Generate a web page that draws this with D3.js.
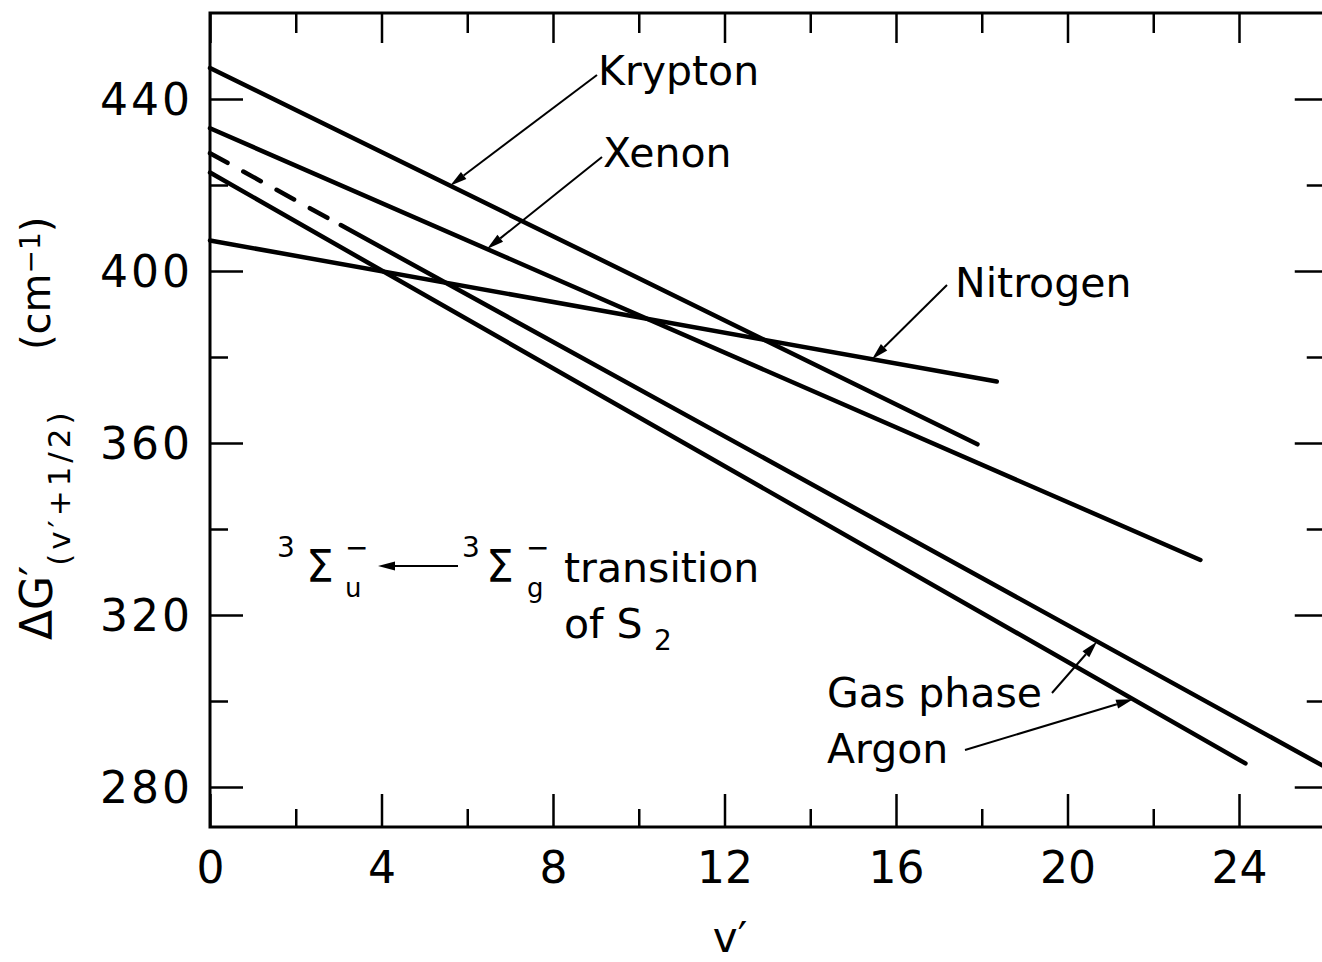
<!DOCTYPE html>
<html>
<head>
<meta charset="utf-8">
<script src="https://cdn.jsdelivr.net/npm/d3@7"></script>
<style>
  body { margin: 0; background: #fff; }
  svg { display: block; }
  text { font-family: "DejaVu Sans", sans-serif; fill: #000; }
</style>
</head>
<body>
<div id="graph"></div>
<script>
//Series end points: [v', deltaG (cm-1)]
const krypton = [[0, 447.2], [17.9, 359.7]];
const xenon = [[0, 433.2], [23.1, 332.8]];
const nitrogen = [[0, 407.1], [18.35, 374.3]];
const argon = [[0, 422.9], [24.15, 285.5]];
const gasPhaseDashed = [[0, 427.4], [2.75, 412.3]];
const gasPhase = [[3.05, 410.7], [26, 284.7]];

//Tick values
const xMajor = [0, 4, 8, 12, 16, 20, 24];
const xMinor = [2, 6, 10, 14, 18, 22];
const yMajor = [280, 320, 360, 400, 440];
const yMinor = [300, 340, 380, 420];

//Display specifications
const W = 1322, H = 962;
const plot = {left: 210, right: 1324.75, top: 13, bottom: 827};

const x = d3.scaleLinear().domain([0, 26]).range([plot.left, plot.right]);
const y = d3.scaleLinear().domain([270.7, 460]).range([plot.bottom, plot.top]);

const svg = d3.select("#graph")
  .append("svg")
  .attr("width", W)
  .attr("height", H);

//Ticks, all pointing into the frame
function tickAxis(axis, pos, vals, size, pad) {
  const g = svg.append("g")
    .attr("transform", pos)
    .call(axis.tickValues(vals).tickSize(-size).tickPadding(pad || 0)
      .tickFormat(pad ? d3.format("d") : ""));
  g.select(".domain").remove();
  g.selectAll("line").attr("stroke", "#000").attr("stroke-width", 2.5);
  return g;
}

const xb = tickAxis(d3.axisBottom(x), "translate(0," + plot.bottom + ")", xMajor, 33, 25);
tickAxis(d3.axisBottom(x), "translate(0," + plot.bottom + ")", xMinor, 18);
tickAxis(d3.axisTop(x), "translate(0," + plot.top + ")", xMajor, 30);
tickAxis(d3.axisTop(x), "translate(0," + plot.top + ")", xMinor, 20);
const yl = tickAxis(d3.axisLeft(y), "translate(" + plot.left + ",0)", yMajor, 33, 17);
tickAxis(d3.axisLeft(y), "translate(" + plot.left + ",0)", yMinor, 18);
tickAxis(d3.axisRight(y), "translate(" + plot.right + ",0)", yMajor, 30);
tickAxis(d3.axisRight(y), "translate(" + plot.right + ",0)", yMinor, 18);

xb.selectAll("text").style("font-size", "44px").style("font-family", "DejaVu Sans").attr("fill", "#000");
yl.selectAll("text").style("font-size", "44px").style("font-family", "DejaVu Sans")
  .style("letter-spacing", "3px").attr("fill", "#000").attr("dy", "0.36em");

//Frame
svg.append("rect")
  .attr("x", plot.left)
  .attr("y", plot.top)
  .attr("width", plot.right - plot.left)
  .attr("height", plot.bottom - plot.top)
  .attr("fill", "none")
  .attr("stroke", "#000")
  .attr("stroke-width", 3);

//line function
const line = d3.line().x(d => x(d[0])).y(d => y(d[1]));

[krypton, xenon, nitrogen, argon, gasPhase, gasPhaseDashed].forEach(function (s) {
  svg.append("path")
    .attr("d", line(s))
    .attr("fill", "none")
    .attr("stroke", "#000")
    .attr("stroke-width", 4.5)
    .attr("stroke-linecap", "round")
    .attr("stroke-dasharray", s === gasPhaseDashed ? "20,18" : null);
});

//value of a straight series at v'
function valueAt(s, v) {
  const a = s[0], b = s[s.length - 1];
  return a[1] + (b[1] - a[1]) * (v - a[0]) / (b[0] - a[0]);
}

//arrow with a filled narrow head
function arrow(x1, y1, x2, y2) {
  const len = Math.hypot(x2 - x1, y2 - y1);
  const ux = (x2 - x1) / len, uy = (y2 - y1) / len;
  const hl = 17, hw = 4.5;
  const bx = x2 - ux * hl, by = y2 - uy * hl;
  svg.append("line")
    .attr("x1", x1).attr("y1", y1).attr("x2", bx).attr("y2", by)
    .attr("stroke", "#000").attr("stroke-width", 2);
  svg.append("path")
    .attr("d", d3.line()([[x2, y2], [bx - uy * hw, by + ux * hw], [bx + uy * hw, by - ux * hw]]) + "Z")
    .attr("fill", "#000");
}

//Line labels with their arrows
const labels = [
  {text: "Krypton", series: krypton, at: 5.6, tx: 598, ty: 85, ax: 597, ay: 75},
  {text: "Xenon", series: xenon, at: 6.46, tx: 603, ty: 167, ax: 602, ay: 157},
  {text: "Nitrogen", series: nitrogen, at: 15.44, tx: 955, ty: 297, ax: 947, ay: 285},
  {text: "Gas phase", series: gasPhase, at: 20.69, tx: 827, ty: 707, ax: 1052, ay: 693},
  {text: "Argon", series: argon, at: 21.53, tx: 827, ty: 763, ax: 965, ay: 750}
];

labels.forEach(function (l) {
  svg.append("text")
    .attr("x", l.tx)
    .attr("y", l.ty)
    .style("font-size", "41px")
    .text(l.text);
  arrow(l.ax, l.ay, x(l.at), y(valueAt(l.series, l.at)));
});

//Transition label
function txt(s, px, py, size) {
  return svg.append("text").attr("x", px).attr("y", py).style("font-size", size + "px").text(s);
}
txt("3", 277, 557, 28);
txt("Σ", 306, 582, 44);
txt("−", 345, 557, 28);
txt("u", 345, 597, 26);
arrow(458, 566, 378, 566);
txt("3", 462, 557, 28);
txt("Σ", 486, 582, 44);
txt("−", 526, 557, 28);
txt("g", 527, 597, 26);
txt("transition", 564, 582, 41);
txt("of S", 564, 638, 41);
txt("2", 654, 650, 28);

//X label
svg.append("text")
  .attr("x", 730)
  .attr("y", 952)
  .attr("text-anchor", "middle")
  .style("font-size", "42px")
  .text("v′");

//Y label
const yLabel = svg.append("text")
  .attr("transform", "translate(52,640) rotate(-90)")
  .style("font-size", "44px");
yLabel.append("tspan").text("ΔG′");
yLabel.append("tspan")
  .attr("dy", 18)
  .style("font-size", "31px")
  .style("letter-spacing", "4px")
  .text("(v′+1/2)");

const unit = svg.append("text")
  .attr("transform", "translate(50,350) rotate(-90)")
  .style("font-size", "40px");
unit.append("tspan").text("(cm");
unit.append("tspan").attr("dy", -10).style("font-size", "28px").text("−1");
unit.append("tspan").attr("dy", 10).text(")");
</script>
</body>
</html>
